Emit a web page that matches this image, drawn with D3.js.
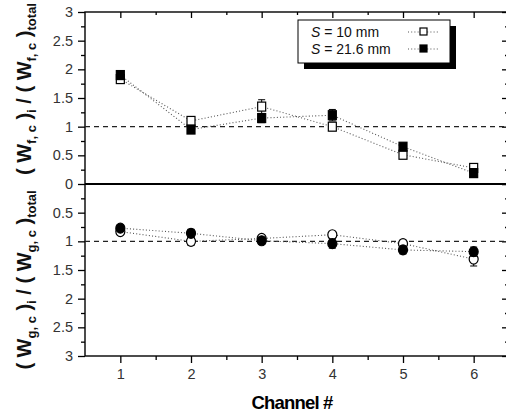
<!DOCTYPE html>
<html>
<head>
<meta charset="utf-8">
<script src="https://cdn.jsdelivr.net/npm/d3@7"></script>
<style>
  body { margin: 0; background: #fff; }
  text { font-family: "Liberation Sans", Arial, sans-serif; }
</style>
</head>
<body>
<div id="chart"></div>
<script>
/* channel numbers on the x axis */
var channels = [1, 2, 3, 4, 5, 6];

/* top panel: (W_f,c)_i / (W_f,c)_total */
var wf10 = [1.83, 1.10, 1.35, 1.00, 0.51, 0.28];
var wf10Err = [0.04, 0.05, 0.12, 0.07, 0.05, 0.05];
var wf216 = [1.90, 0.95, 1.15, 1.20, 0.65, 0.19];
var wf216Err = [0.05, 0.07, 0.08, 0.10, 0.05, 0.05];

/* bottom panel (inverted): (W_g,c)_i / (W_g,c)_total */
var wg10 = [0.83, 1.00, 0.95, 0.885, 1.04, 1.31];
var wg10Err = [0.05, 0.07, 0.05, 0.05, 0.06, 0.12];
var wg216 = [0.77, 0.86, 0.99, 1.04, 1.15, 1.18];
var wg216Err = [0.05, 0.07, 0.06, 0.08, 0.07, 0.08];

var legendLabels = ["10 mm", "21.6 mm"];
var yTickValues = [0, 0.5, 1, 1.5, 2, 2.5, 3];

var width = 506, height = 414;
var plotLeft = 85, plotRight = 509, plotTop = 12, plotZero = 184, plotBottom = 356;

var svg = d3.select("#chart").append("svg")
  .attr("width", width)
  .attr("height", height)
  .style("display", "block");

var x = d3.scaleLinear().domain([0.5, 6.5]).range([plotLeft, plotRight]);
var yTop = d3.scaleLinear().domain([0, 3]).range([plotZero, plotTop]);
var yBot = d3.scaleLinear().domain([0, 3]).range([plotZero, plotBottom]);

var minorY = d3.range(0.25, 3, 0.5);
var minorX = d3.range(1.5, 6.5, 1);
var fmt = d3.format("~g");

function styleAxis(g) {
  g.select(".domain").remove();
  g.selectAll("line").attr("stroke", "#000").attr("stroke-width", 1.3);
  g.selectAll("text").attr("fill", "#333").style("font-size", "14.5px");
}

/* left axis, outward ticks */
svg.append("g").attr("transform", "translate(" + plotLeft + ",0)")
  .call(d3.axisLeft(yTop).tickValues(yTickValues).tickSize(7).tickPadding(5).tickFormat(fmt))
  .call(styleAxis);
svg.append("g").attr("transform", "translate(" + plotLeft + ",0)")
  .call(d3.axisLeft(yBot).tickValues(yTickValues.slice(1)).tickSize(7).tickPadding(5).tickFormat(fmt))
  .call(styleAxis);
[yTop, yBot].forEach(function(sc) {
  svg.append("g").attr("transform", "translate(" + plotLeft + ",0)")
    .call(d3.axisLeft(sc).tickValues(minorY).tickSize(4).tickFormat(""))
    .call(styleAxis);
  /* right side, inward ticks */
  svg.append("g").attr("transform", "translate(" + plotRight + ",0)")
    .call(d3.axisLeft(sc).tickValues(yTickValues).tickSize(7).tickFormat(""))
    .call(styleAxis);
  svg.append("g").attr("transform", "translate(" + plotRight + ",0)")
    .call(d3.axisLeft(sc).tickValues(minorY).tickSize(4).tickFormat(""))
    .call(styleAxis);
});

/* bottom axis, outward ticks */
svg.append("g").attr("transform", "translate(0," + plotBottom + ")")
  .call(d3.axisBottom(x).tickValues(channels).tickSize(7).tickPadding(6).tickFormat(d3.format("d")))
  .call(styleAxis);
svg.append("g").attr("transform", "translate(0," + plotBottom + ")")
  .call(d3.axisBottom(x).tickValues(minorX).tickSize(4).tickFormat(""))
  .call(styleAxis);
/* top axis, inward ticks */
svg.append("g").attr("transform", "translate(0," + plotTop + ")")
  .call(d3.axisBottom(x).tickValues(channels).tickSize(6).tickFormat(""))
  .call(styleAxis);
svg.append("g").attr("transform", "translate(0," + plotTop + ")")
  .call(d3.axisBottom(x).tickValues(minorX).tickSize(3).tickFormat(""))
  .call(styleAxis);

/* frame */
svg.append("rect")
  .attr("x", plotLeft).attr("y", plotTop)
  .attr("width", plotRight - plotLeft).attr("height", plotBottom - plotTop)
  .attr("fill", "none").attr("stroke", "#000").attr("stroke-width", 1.4);

/* zero line between panels */
svg.append("line")
  .attr("x1", plotLeft).attr("x2", plotRight)
  .attr("y1", yTop(0)).attr("y2", yTop(0))
  .attr("stroke", "#000").attr("stroke-width", 2.2);

/* reference dashed lines at 1 */
[yTop(1), yBot(1)].forEach(function(yy) {
  svg.append("line")
    .attr("x1", plotLeft).attr("x2", plotRight)
    .attr("y1", yy).attr("y2", yy)
    .attr("stroke", "#222").attr("stroke-width", 1.2)
    .attr("stroke-dasharray", "5,4");
});

/* series */
function drawSeries(vals, errs, sc, shape, filled) {
  var pts = channels.map(function(c, i) {
    return { x: c, y: vals[i], e: errs[i] };
  });
  svg.append("path")
    .datum(pts)
    .attr("fill", "none")
    .attr("stroke", "#555")
    .attr("stroke-width", 1.1)
    .attr("stroke-dasharray", "1,2.2")
    .attr("d", d3.line().x(function(d) { return x(d.x); }).y(function(d) { return sc(d.y); }));

  var g = svg.append("g");
  pts.forEach(function(d) {
    var cx = x(d.x);
    var y0 = sc(d.y - d.e), y1 = sc(d.y + d.e);
    g.append("line").attr("x1", cx).attr("x2", cx).attr("y1", y0).attr("y2", y1)
      .attr("stroke", "#000").attr("stroke-width", 1);
    [y0, y1].forEach(function(yy) {
      g.append("line").attr("x1", cx - 3.5).attr("x2", cx + 3.5).attr("y1", yy).attr("y2", yy)
        .attr("stroke", "#000").attr("stroke-width", 1);
    });
    if (shape === "square") {
      g.append("rect")
        .attr("x", cx - 4).attr("y", sc(d.y) - 4.5)
        .attr("width", 8).attr("height", 9)
        .attr("fill", filled ? "#000" : "#fff")
        .attr("stroke", "#000").attr("stroke-width", 1.2);
    } else {
      g.append("ellipse")
        .attr("cx", cx).attr("cy", sc(d.y))
        .attr("rx", 4.5).attr("ry", 5)
        .attr("fill", filled ? "#000" : "#fff")
        .attr("stroke", "#000").attr("stroke-width", 1.2);
    }
  });
}

drawSeries(wf10, wf10Err, yTop, "square", false);
drawSeries(wf216, wf216Err, yTop, "square", true);
drawSeries(wg10, wg10Err, yBot, "circle", false);
drawSeries(wg216, wg216Err, yBot, "circle", true);

/* legend */
var lg = svg.append("g").attr("transform", "translate(298,20)");
lg.append("rect").attr("x", 6).attr("y", 6).attr("width", 152).attr("height", 43).attr("fill", "#000");
lg.append("rect").attr("x", 0).attr("y", 0).attr("width", 152).attr("height", 43)
  .attr("fill", "#fff").attr("stroke", "#000").attr("stroke-width", 1);
legendLabels.forEach(function(lbl, i) {
  var yy = 12 + i * 17;
  var t = lg.append("text").attr("x", 13).attr("y", yy + 5)
    .style("font-size", "14px").attr("fill", "#111");
  t.append("tspan").style("font-style", "italic").text("S");
  t.append("tspan").text(" = " + lbl);
  lg.append("line").attr("x1", 110).attr("x2", 140).attr("y1", yy).attr("y2", yy)
    .attr("stroke", "#555").attr("stroke-width", 1.1).attr("stroke-dasharray", "1,2.2");
  lg.append("rect").attr("x", 122).attr("y", yy - 4).attr("width", 7).attr("height", 7)
    .attr("fill", i === 0 ? "#fff" : "#000").attr("stroke", "#000").attr("stroke-width", 1.2);
});

/* y axis titles */
function yTitle(sub, cy) {
  var t = svg.append("text")
    .attr("transform", "translate(31," + cy + ") rotate(-90)")
    .attr("text-anchor", "middle")
    .style("font-weight", "bold")
    .style("font-size", "20px")
    .attr("fill", "#111");
  t.append("tspan").text("( W");
  t.append("tspan").attr("dy", 5).style("font-size", "13px").text(sub);
  t.append("tspan").attr("dy", -5).text(" )");
  t.append("tspan").attr("dy", 5).style("font-size", "13px").text("i");
  t.append("tspan").attr("dy", -5).text(" / ( W");
  t.append("tspan").attr("dy", 5).style("font-size", "13px").text(sub);
  t.append("tspan").attr("dy", -5).text(" )");
  t.append("tspan").attr("dy", 5).style("font-size", "13px").text("total");
}
yTitle("f, c", 89);
yTitle("g, c", 280);

/* x axis title */
svg.append("text")
  .attr("x", (plotLeft + plotRight) / 2 - 5)
  .attr("y", 409)
  .attr("text-anchor", "middle")
  .style("font-weight", "bold")
  .style("font-size", "18.5px")
  .style("letter-spacing", "-0.8px")
  .attr("fill", "#000")
  .text("Channel #");
</script>
</body>
</html>
